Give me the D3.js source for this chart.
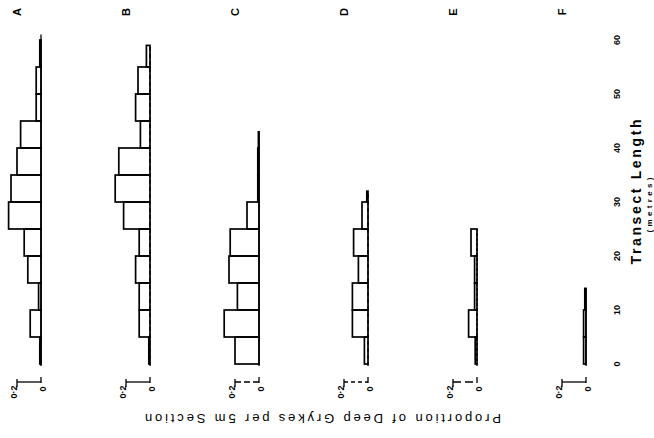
<!DOCTYPE html>
<html>
<head>
<meta charset="utf-8">
<script src="https://d3js.org/d3.v7.min.js"></script>
<style>
  body { margin: 0; background: #fff; }
  text { font-family: "Liberation Sans", Arial, sans-serif; fill: #000; }
</style>
</head>
<body>
<svg width="654" height="438"></svg>
<script>
// panels (sites) and 5 m sections along the transect
var panels = ["A", "B", "C", "D", "E", "F"];
var binStarts = [0, 5, 10, 15, 20, 25, 30, 35, 40, 45, 50, 55];

// proportion of deep grykes per 5m section
var propA = [0.01, 0.09, 0.02, 0.11, 0.14, 0.27, 0.25, 0.20, 0.17, 0.04, 0.04, 0.01];
var propB = [0.01, 0.09, 0.09, 0.12, 0.09, 0.22, 0.29, 0.26, 0.08, 0.12, 0.10, 0.03];
var propC = [0.20, 0.29, 0.18, 0.25, 0.24, 0.10, 0.01, 0.01, 0.005];
var propD = [0.03, 0.13, 0.13, 0.08, 0.12, 0.05, 0.01];
var propE = [0.015, 0.07, 0.02, 0.02, 0.05];
var propF = [0.02, 0.02, 0.01];
var transectEnd = [61, 59, 43, 32, 25, 14];

var lengthTicks = [0, 10, 20, 30, 40, 50, 60];
var scaleTicks = [0, 0.2];

var allProps = [propA, propB, propC, propD, propE, propF];

var svg = d3.select("svg");

// the figure is printed turned on its side: transect runs up the page
var y = d3.scaleLinear().domain([0, 60]).range([364, 40]);
var px = d3.scalePoint().domain(panels).range([41, 586]);
var dashed = {A: null, B: "4,3", C: null, D: "4,3", E: "3,2", F: null};
var barDash = {A: null, B: null, C: "6,3", D: "4,3", E: "8,4", F: null};

panels.forEach(function(p, i) {
  var base = px(p);
  var xs = d3.scaleLinear().domain([0, 0.2]).range([base, base - 24]);
  var end = transectEnd[i];
  var g = svg.append("g");

  // baseline
  g.append("line")
    .attr("x1", base).attr("x2", base)
    .attr("y1", y(0) + 2).attr("y2", y(end))
    .attr("stroke", "#000").attr("stroke-width", 1.3)
    .attr("stroke-dasharray", dashed[p]);

  var data = allProps[i].map(function(v, j) {
    return {start: binStarts[j], stop: Math.min(binStarts[j] + 5, end), v: v};
  });

  g.selectAll("rect")
    .data(data)
    .enter()
    .append("rect")
    .attr("x", function(d) { return xs(d.v); })
    .attr("y", function(d) { return y(d.stop); })
    .attr("width", function(d) { return base - xs(d.v); })
    .attr("height", function(d) { return y(d.start) - y(d.stop); })
    .attr("fill", "none")
    .attr("stroke", "#000")
    .attr("stroke-width", 1.7);

  // 0.2 scale bar
  g.append("line")
    .attr("x1", xs(0.2)).attr("x2", xs(0))
    .attr("y1", 382).attr("y2", 382)
    .attr("stroke", "#000").attr("stroke-width", 1.3)
    .attr("stroke-dasharray", barDash[p]);
  g.append("line")
    .attr("x1", xs(0.2)).attr("x2", xs(0.2))
    .attr("y1", 379).attr("y2", 387)
    .attr("stroke", "#000").attr("stroke-width", 1.3);
  g.append("line")
    .attr("x1", xs(0)).attr("x2", xs(0))
    .attr("y1", 377).attr("y2", 383)
    .attr("stroke", "#000").attr("stroke-width", 1.3);

  g.selectAll(".sl")
    .data(scaleTicks)
    .enter()
    .append("text")
    .attr("transform", function(d) {
      return "translate(" + (xs(d) + (d ? -3 : 2)) + "," + (d ? 392 : 389) + ") rotate(-90)";
    })
    .attr("text-anchor", "middle")
    .attr("dominant-baseline", "central")
    .style("font-size", "9px")
    .style("font-weight", "bold")
    .text(function(d) { return d ? "0\u00b72" : "0"; });

  // panel letter
  g.append("text")
    .attr("transform", "translate(" + (base - 24) + ",12) rotate(-90)")
    .attr("text-anchor", "middle")
    .attr("dominant-baseline", "central")
    .style("font-size", "11px")
    .style("font-weight", "bold")
    .text(p);
});

// transect length axis, on the right
svg.selectAll(".tl")
  .data(lengthTicks)
  .enter()
  .append("text")
  .attr("transform", function(d) { return "translate(617," + y(d) + ") rotate(-90)"; })
  .attr("text-anchor", "middle")
  .attr("dominant-baseline", "central")
  .style("font-size", "9px")
  .style("font-weight", "bold")
  .text(function(d) { return d; });

svg.append("text")
  .attr("transform", "translate(636,192) rotate(-90)")
  .attr("text-anchor", "middle")
  .attr("dominant-baseline", "central")
  .attr("textLength", 145)
  .attr("lengthAdjust", "spacing")
  .style("font-size", "14px")
  .style("font-weight", "bold")
  .text("Transect Length");

svg.append("text")
  .attr("transform", "translate(649,205) rotate(-90)")
  .attr("text-anchor", "middle")
  .attr("dominant-baseline", "central")
  .attr("textLength", 55)
  .attr("lengthAdjust", "spacing")
  .style("font-size", "8px")
  .style("font-weight", "bold")
  .text("(metres)");

// proportion label, printed upside down at the bottom
svg.append("text")
  .attr("transform", "translate(323,418) rotate(180)")
  .attr("text-anchor", "middle")
  .attr("dominant-baseline", "central")
  .attr("textLength", 356)
  .attr("lengthAdjust", "spacing")
  .style("font-size", "13px")
  .text("Proportion of Deep Grykes per 5m Section");
</script>
</body>
</html>
